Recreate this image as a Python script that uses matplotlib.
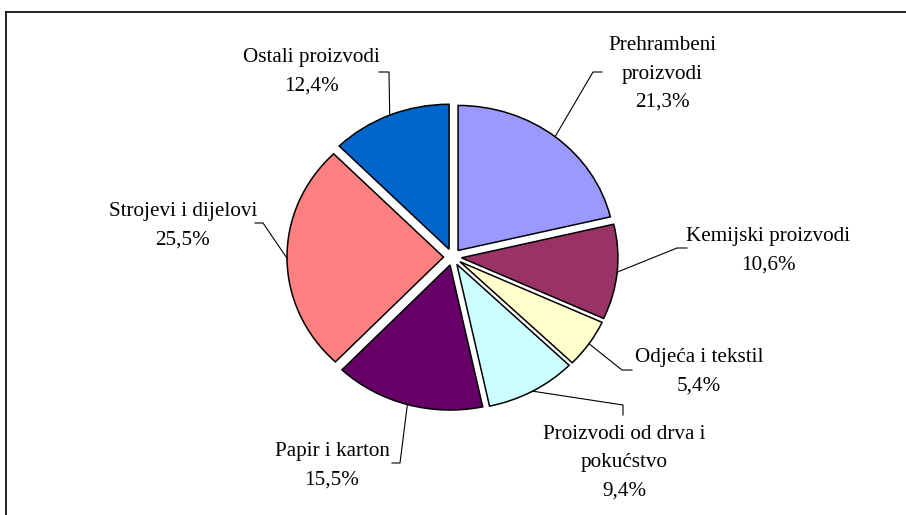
import numpy as np
import matplotlib
matplotlib.use("Agg")
import matplotlib.pyplot as plt
from matplotlib.lines import Line2D

# podaci
kategorije = ["Prehrambeni\nproizvodi", "Kemijski proizvodi", "Odjeća i tekstil",
              "Proizvodi od drva i\npokućstvo", "Papir i karton",
              "Strojevi i dijelovi", "Ostali proizvodi"]
udjeli = [21.3, 10.6, 5.4, 9.4, 15.5, 25.5, 12.4]
boje = ["#9999FF", "#993366", "#FFFFCC", "#CCFFFF", "#660066", "#FF8080", "#0066CC"]

# polozaj natpisa (pikseli: sredina teksta, lakat linije, kraj linije kod teksta)
tekst_xy = [(662, 74), (768, 251), (699, 372), (624, 463), (332, 466), (183, 226), (311, 72)]
lakat_xy = [(593, 72), (677, 248), (622, 370), (623, 405), (400, 463), (263, 223), (389, 72)]
kraj_xy = [(602, 72), (687, 248), (632, 370), (623, 415), (392, 463), (255, 223), (379, 72)]

W, H = 906, 515
sy = 0.9265  # pita je malo spljostena
plt.rcParams['font.family'] = ['Liberation Serif', 'DejaVu Serif']

def px(x, y):
    return x, (H - y) / sy

fig = plt.figure(figsize=(W / 100, H / 100), dpi=100)
ax = fig.add_axes([0, 0, 1, 1])
cx, cy = px(452.5, 257)
R = 156.5
eks = 9.0  # u jedinicama podataka
wedges, _ = ax.pie(udjeli, colors=boje, startangle=90, counterclock=False,
                   explode=[eks] * len(udjeli), center=(cx, cy), radius=R,
                   wedgeprops=dict(edgecolor="black", linewidth=1.1))
ax.set_aspect('auto')
ax.set_xlim(0, W)
ax.set_ylim(0, H / sy)
ax.axis('off')

for w, lab, v, t, l, k in zip(wedges, kategorije, udjeli, tekst_xy, lakat_xy, kraj_xy):
    a = np.deg2rad((w.theta1 + w.theta2) / 2)
    wx, wy = w.center
    sx, sy_ = wx + R * np.cos(a), wy + R * np.sin(a)
    lx, ly = px(*l)
    kx, ky = px(*k)
    ax.plot([sx, lx, kx], [sy_, ly, ky], color="black", lw=0.8)
    tx, ty = px(*t)
    ax.text(tx, ty, lab + "\n" + f"{v:.1f}%".replace(".", ","), ha="center", va="center",
            fontsize=15.2, linespacing=1.66)

# okvir
fig.add_artist(Line2D([5.5 / W, 5.5 / W], [0, 1 - 11.5 / H], color="black", lw=1.2))
fig.add_artist(Line2D([5.5 / W, 1], [1 - 11.5 / H, 1 - 11.5 / H], color="black", lw=1.2))

fig.savefig("out.png", dpi=100)
